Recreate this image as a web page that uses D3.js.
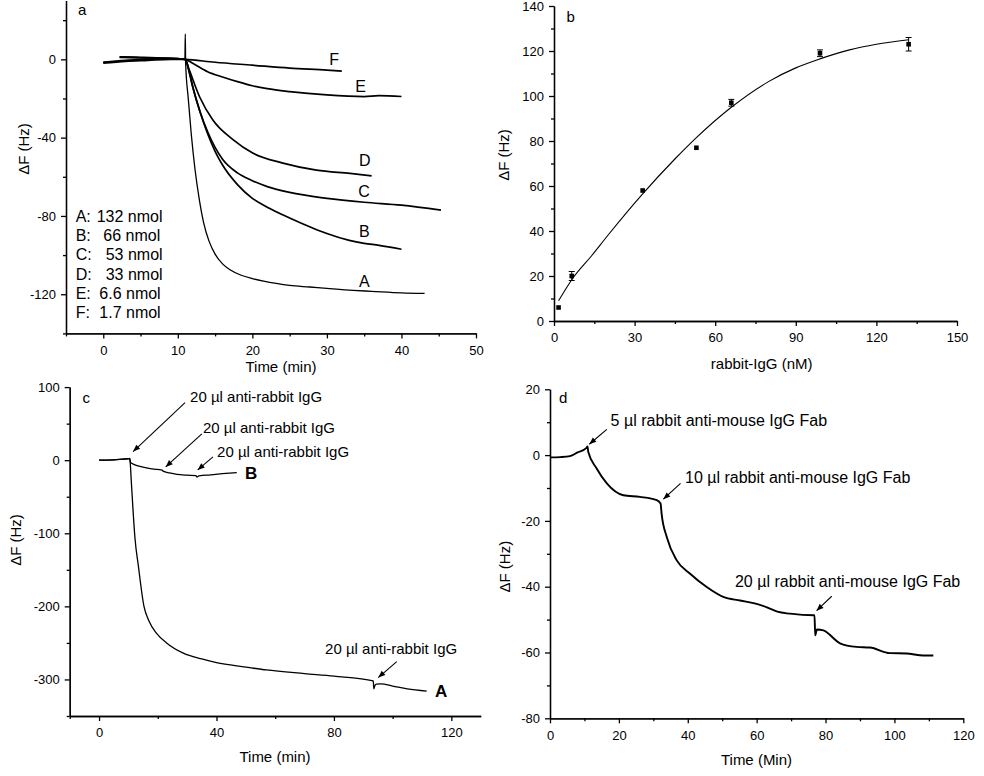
<!DOCTYPE html>
<html><head><meta charset="utf-8">
<script src="https://cdn.jsdelivr.net/npm/d3@7"></script>
<style>
html,body{margin:0;padding:0;background:#fff;}
svg{display:block;font-family:"Liberation Sans",Arial,sans-serif;}
</style></head>
<body><svg id="c" width="984" height="776"></svg>
<script>
// ---------- Panel a data: time (min), ΔF (Hz) ----------
const aCurveA = [[0,-1.5],[2,-1],[4,-0.5],[6,0],[8,0.3],[10,0.5],[10.95,0],[11,13],[11.05,-2],[11.4,-20],[11.8,-38],[12.3,-56],[12.9,-72],[13.5,-84],[14.2,-93],[15,-99.5],[16,-104.5],[17,-107.5],[18.5,-110.3],[20,-112],[21.5,-113.3],[23.2,-114.5],[25,-115.5],[27.7,-116.3],[30,-117],[33.5,-118],[36,-118.5],[40,-119.3],[43.1,-119.6]];
const aCurveB = [[0,-2],[3,-1],[6,-0.5],[9,0],[11,0],[11.5,-6],[12,-14],[13,-27],[14,-38],[15,-47],[16,-54],[18,-64],[20,-71],[22,-75.5],[25,-81],[28,-86],[30,-89],[33,-92.5],[35,-94],[37,-95],[40,-97]];
const aCurveC = [[0,-1.5],[3,-0.5],[6,0],[9,0.5],[11,0],[11.5,-6],[12,-14],[13,-27],[14,-37],[15,-45],[16,-51],[18,-58],[20,-62],[22,-65],[25,-68],[30,-71],[35,-73],[40,-74.5],[45.3,-77]];
const aCurveD = [[2.2,1.2],[5,0.8],[8,0.5],[11,0],[11.5,-5],[12.9,-19],[14.7,-31],[17.4,-41],[20.1,-48],[24.1,-53],[28.6,-56.6],[33.1,-58.3],[36,-59.5]];
const aCurveE = [[2.2,1.3],[5,1],[8,0.6],[11,0],[12,-2],[14,-6.3],[16,-9],[18,-11.4],[20,-13.5],[22,-15],[25,-16.5],[30,-18.2],[35,-19],[37,-18.5],[40,-19]];
const aCurveF = [[2.2,1],[5,0.8],[8,0.5],[11,0],[15,-1.5],[20,-3],[25,-4.5],[30,-5.5],[32,-6]];
const aCurveNames = ["A","B","C","D","E","F"];
const aLegendLetters = ["A:","B:","C:","D:","E:","F:"];
const aLegendAmounts = ["132 nmol","66 nmol","53 nmol","33 nmol","6.6 nmol","1.7 nmol"];

// ---------- Panel b data ----------
const bConc = [1.7, 6.6, 33, 53, 66, 99, 132];
const bResp = [6, 20, 58, 77, 97, 119, 123];
const bErr  = [0, 2, 0, 0, 1.5, 1.5, 3];
const bFitX = [1.7, 7, 14, 20, 33, 45, 53, 66, 80, 90, 99, 110, 120, 132];
const bFitY = [9, 19, 29, 38, 56.5, 72, 81.5, 95, 106.5, 112.5, 116.5, 120.5, 123, 125];

// ---------- Panel c data ----------
const cCurveA = [[0,0],[5,0.5],[10,2],[10.4,2],[10.6,-3],[11,-30],[11.6,-70],[12.2,-105],[13.4,-145],[15.3,-200],[17,-220],[19.6,-237],[23,-250],[28.7,-264],[35,-272],[40,-277],[50,-283],[57,-287],[70,-292],[80,-295.5],[93.4,-302],[93.6,-313],[93.9,-309],[94.4,-306.5],[96,-306],[100,-309],[105,-313],[111.6,-316]];
const cCurveB = [[0,0],[5,0.5],[10,2],[10.5,2.5],[10.7,-3],[12,-6],[15,-9.5],[18,-12],[21.5,-13.5],[21.8,-15],[24,-17.5],[26.5,-19.5],[30,-20.5],[33,-21],[33.3,-23],[34,-21.5],[38,-20],[42,-18.5],[46.9,-17]];
const cAnnotText = ["20 \u00b5l anti-rabbit IgG","20 \u00b5l anti-rabbit IgG","20 \u00b5l anti-rabbit IgG","20 \u00b5l anti-rabbit IgG"];
const cArrowTip  = [[11.6,11.8],[22.7,-9.2],[33.6,-13.3],[95.1,-297.4]];
const cArrowTail = [[29.3,78.8],[35,36],[38.8,4.5],[101.4,-275.5]];
const cTextPos   = [[31,79.8],[35.4,37],[40.2,4.9],[77,-265]];

// ---------- Panel d data ----------
const dCurve = [[0,-0.7],[3,-0.6],[5.8,-0.3],[8,0.8],[10.6,2.2],[10.9,2.6],[11.1,1],[13.5,-4],[16.5,-8.6],[21.3,-12.2],[26.1,-12.7],[31,-13.7],[32.1,-14.7],[32.4,-17.8],[33.9,-24.9],[36.8,-32],[40.6,-36],[45.5,-40.1],[50.3,-43.1],[55.2,-44.2],[60,-45.2],[63,-46.3],[66,-47.6],[69.7,-48.2],[76.5,-48.7],[76.8,-48.7],[77,-54.8],[77.5,-53],[79.4,-53.3],[84.2,-57.2],[89,-58.3],[92.9,-58.5],[98.7,-60.2],[103.5,-60.3],[108.4,-60.9],[111.3,-60.9]];
const dAnnotText = ["5 \u00b5l rabbit anti-mouse IgG Fab","10 \u00b5l rabbit anti-mouse IgG Fab","20 \u00b5l rabbit anti-mouse IgG Fab"];
const dArrowTip  = [[11.4,3.3],[32.9,-13.4],[77.4,-47.3]];
const dArrowTail = [[16.5,7.8],[37.9,-8.6],[81.8,-42.9]];
const dTextPos   = [[17.6,8.8],[39.2,-8.6],[53.7,-40.2]];

// ---------- tick values ----------
const aXMajor=[0,10,20,30,40,50], aXMinor=[-5,5,15,25,35,45];
const aYMajor=[-120,-80,-40,0], aYMinor=[-140,-100,-60,-20,20];
const bXMajor=[0,30,60,90,120,150], bXMinor=[15,45,75,105,135];
const bYMajor=[0,20,40,60,80,100,120,140], bYMinor=[10,30,50,70,90,110,130];
const cXMajor=[0,40,80,120], cXMinor=[-10,20,60,100];
const cYMajor=[-300,-200,-100,0,100], cYMinor=[-350,-250,-150,-50,50];
const dXMajor=[0,20,40,60,80,100,120], dXMinor=[10,30,50,70,90,110];
const dYMajor=[-80,-60,-40,-20,0,20], dYMinor=[-70,-50,-30,-10,10];

const svg = d3.select("#c");
svg.append("defs").append("marker").attr("id","arr").attr("viewBox","0 0 10 10")
  .attr("refX",10).attr("refY",5).attr("markerWidth",9).attr("markerHeight",7)
  .attr("markerUnits","userSpaceOnUse").attr("orient","auto")
  .append("path").attr("d","M0,1 L10,5 L0,9 Z").attr("fill","#000");

function axes(x, y, xMaj, xMin, yMaj, yMin) {
  const yb = y.range()[0], xl = x.range()[0];
  const fmt = d => String(d);
  const style = g => { g.selectAll("path,line").attr("stroke","#000").attr("stroke-width",1.3);
    g.selectAll("text").attr("font-size",13).attr("fill","#000").attr("font-family","Liberation Sans, Arial, sans-serif"); };
  svg.append("g").attr("transform",`translate(0,${yb})`).call(d3.axisBottom(x).tickValues(xMin).tickSize(3).tickFormat("").tickSizeOuter(0)).call(style);
  svg.append("g").attr("transform",`translate(0,${yb})`).call(d3.axisBottom(x).tickValues(xMaj).tickSize(5).tickPadding(7).tickFormat(fmt).tickSizeOuter(0)).call(style);
  svg.append("g").attr("transform",`translate(${xl},0)`).call(d3.axisLeft(y).tickValues(yMin).tickSize(3).tickFormat("").tickSizeOuter(0)).call(style);
  svg.append("g").attr("transform",`translate(${xl},0)`).call(d3.axisLeft(y).tickValues(yMaj).tickSize(5).tickPadding(5).tickFormat(fmt).tickSizeOuter(0)).call(style);
}
function text(x, y, s, size, opts={}) {
  const t = svg.append("text").attr("x",x).attr("y",y).attr("font-size",size).attr("fill","#000").text(s);
  if (opts.anchor) t.attr("text-anchor",opts.anchor);
  if (opts.bold) t.attr("font-weight","bold");
  if (opts.rot) t.attr("transform",`rotate(-90,${x},${y})`);
  return t;
}

// ================= Panel a =================
{
  const x = d3.scaleLinear().domain([-5,50]).range([66,476]);
  const y = d3.scaleLinear().domain([-140,30]).range([333.4,0.6]);
  axes(x, y, aXMajor, aXMinor, aYMajor, aYMinor);
  const line = d3.line().x(d=>x(d[0])).y(d=>y(d[1])).curve(d3.curveMonotoneX);
  const curves = [aCurveA,aCurveB,aCurveC,aCurveD,aCurveE,aCurveF];
  curves.forEach((c,i)=>svg.append("path").datum(c).attr("d",line).attr("fill","none")
    .attr("stroke","#000").attr("stroke-width", i===0?1.3:1.7).attr("stroke-linejoin","round"));
  const labPos = [[34.3,-116.5],[34.3,-90.9],[34.2,-70.5],[34.3,-54.4],[33.8,-16.6],[30.3,-2.9]];
  aCurveNames.forEach((n,i)=>text(x(labPos[i][0]), y(labPos[i][1]), n, 16));
  const amountLeft = [96.7,103.3,105.7,105.7,99.3,99.3];
  aLegendLetters.forEach((l,i)=>{
    const yy = y(-83) + i*19.3;
    text(x(-3.7), yy, l, 16);
    text(amountLeft[i], yy, aLegendAmounts[i], 16);
  });
  text(x(-3.4), y(30)+14.5, "a", 15);
  text((x(-5)+x(50))/2 + 10, 372, "Time (min)", 15, {anchor:"middle"});
  text(29, (y(-140)+y(30))/2 - 18, "\u0394F (Hz)", 15, {anchor:"middle", rot:true});
}

// ================= Panel b =================
{
  const x = d3.scaleLinear().domain([0,150]).range([554,957]);
  const y = d3.scaleLinear().domain([0,140]).range([321,6]);
  axes(x, y, bXMajor, bXMinor, bYMajor, bYMinor);
  const fit = bFitX.map((v,i)=>[v,bFitY[i]]);
  svg.append("path").datum(fit).attr("d", d3.line().x(d=>x(d[0])).y(d=>y(d[1])).curve(d3.curveMonotoneX))
    .attr("fill","none").attr("stroke","#000").attr("stroke-width",1.1);
  const pts = bConc.map((c,i)=>({c, r:bResp[i], e:bErr[i]}));
  const eb = svg.append("g").attr("stroke","#000").attr("stroke-width",1);
  pts.filter(p=>p.e>0).forEach(p=>{
    eb.append("line").attr("x1",x(p.c)).attr("x2",x(p.c)).attr("y1",y(p.r-p.e)).attr("y2",y(p.r+p.e));
    eb.append("line").attr("x1",x(p.c)-3).attr("x2",x(p.c)+3).attr("y1",y(p.r-p.e)).attr("y2",y(p.r-p.e));
    eb.append("line").attr("x1",x(p.c)-3).attr("x2",x(p.c)+3).attr("y1",y(p.r+p.e)).attr("y2",y(p.r+p.e));
  });
  svg.append("g").selectAll("rect").data(pts).join("rect")
    .attr("x",p=>x(p.c)-2.3).attr("y",p=>y(p.r)-2.3).attr("width",4.6).attr("height",4.6).attr("fill","#000");
  text(566.5, 21.5, "b", 15);
  text(761.7, 369, "rabbit-IgG (nM)", 15, {anchor:"middle"});
  text(509, 155, "\u0394F (Hz)", 15, {anchor:"middle", rot:true});
}

// ================= Panel c =================
{
  const x = d3.scaleLinear().domain([-10,130]).range([69.7,480.7]);
  const y = d3.scaleLinear().domain([-350,100]).range([716,387.1]);
  axes(x, y, cXMajor, cXMinor, cYMajor, cYMinor);
  const line = d3.line().x(d=>x(d[0])).y(d=>y(d[1])).curve(d3.curveMonotoneX);
  [cCurveA,cCurveB].forEach(c=>svg.append("path").datum(c).attr("d",line).attr("fill","none")
    .attr("stroke","#000").attr("stroke-width",1.3).attr("stroke-linejoin","round"));
  cAnnotText.forEach((s,i)=>{
    svg.append("line").attr("x1",x(cArrowTail[i][0])).attr("y1",y(cArrowTail[i][1]))
      .attr("x2",x(cArrowTip[i][0])).attr("y2",y(cArrowTip[i][1]))
      .attr("stroke","#000").attr("stroke-width",1.1).attr("marker-end","url(#arr)");
    text(x(cTextPos[i][0]), y(cTextPos[i][1]), s, 15);
  });
  text(x(49.7), y(-25.3), "B", 17, {bold:true});
  text(x(114.4), y(-323.4), "A", 17, {bold:true});
  text(82.5, 403, "c", 15);
  text(275, 762, "Time (min)", 15, {anchor:"middle"});
  text(21, 540, "\u0394F (Hz)", 15, {anchor:"middle", rot:true});
}

// ================= Panel d =================
{
  const x = d3.scaleLinear().domain([0,120]).range([550,963.3]);
  const y = d3.scaleLinear().domain([-80,20]).range([718.3,389.3]);
  axes(x, y, dXMajor, dXMinor, dYMajor, dYMinor);
  const line = d3.line().x(d=>x(d[0])).y(d=>y(d[1])).curve(d3.curveMonotoneX);
  svg.append("path").datum(dCurve).attr("d",line).attr("fill","none")
    .attr("stroke","#000").attr("stroke-width",1.9).attr("stroke-linejoin","round");
  dAnnotText.forEach((s,i)=>{
    svg.append("line").attr("x1",x(dArrowTail[i][0])).attr("y1",y(dArrowTail[i][1]))
      .attr("x2",x(dArrowTip[i][0])).attr("y2",y(dArrowTip[i][1]))
      .attr("stroke","#000").attr("stroke-width",1.1).attr("marker-end","url(#arr)");
    text(x(dTextPos[i][0]), y(dTextPos[i][1]), s, 16);
  });
  text(559, 403, "d", 15);
  text(756.5, 764.5, "Time (Min)", 15, {anchor:"middle"});
  text(510, 566.7, "\u0394F (Hz)", 15, {anchor:"middle", rot:true});
}
</script></body></html>
